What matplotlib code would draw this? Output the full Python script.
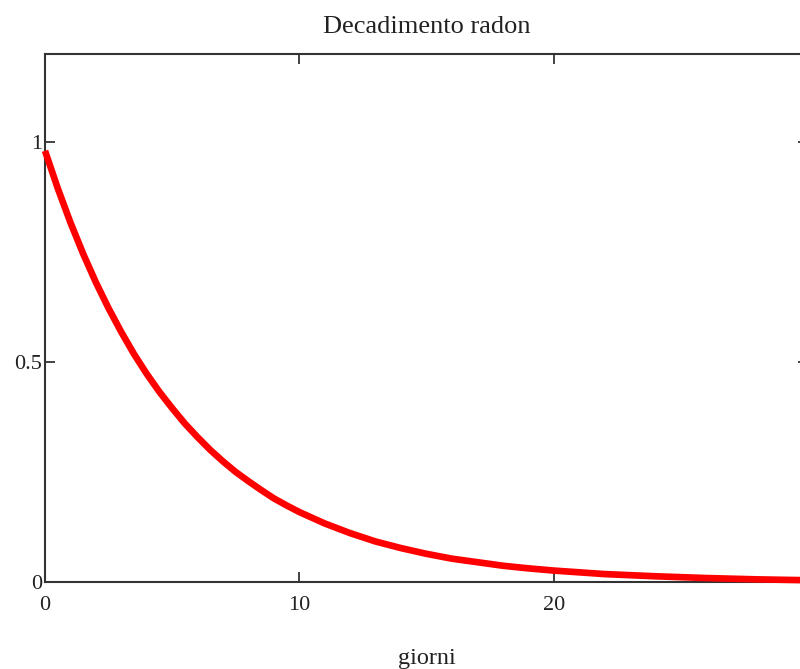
import matplotlib
matplotlib.use('Agg')
import matplotlib.pyplot as plt

# values
giorni = [0, 0.5, 1, 1.5, 2, 2.5, 3, 3.5, 4, 4.5, 5, 5.5, 6, 6.5, 7, 7.5, 8, 8.5, 9, 9.5,
          10, 11, 12, 13, 14, 15, 16, 17, 18, 19, 20, 22, 24, 26, 28, 30]
frazione = [0.98, 0.895, 0.817, 0.746, 0.681, 0.622, 0.568, 0.518, 0.473, 0.432, 0.395,
            0.360, 0.329, 0.300, 0.274, 0.250, 0.229, 0.209, 0.190, 0.174,
            0.159, 0.133, 0.111, 0.092, 0.077, 0.064, 0.053, 0.045, 0.037, 0.031,
            0.026, 0.018, 0.013, 0.009, 0.006, 0.004]
xticks = [0, 10, 20]
yticks = [0, 0.5, 1]
ytick_labels = ['0', '0.5', '1']

plt.rcParams['font.family'] = ['Liberation Serif', 'DejaVu Serif']

fig = plt.figure(figsize=(8, 6.69), dpi=100)
ax = fig.add_axes([45 / 800, 87 / 669, 763 / 800, 528 / 669])

ax.plot(giorni, frazione, color='#ff0000', linewidth=4.8, solid_capstyle='butt',
        solid_joinstyle='round', zorder=5, clip_on=False)

ax.set_xlim(0, 30)
ax.set_ylim(0, 1.2)
ax.set_xticks(xticks)
ax.set_yticks(yticks)
ax.set_yticklabels(ytick_labels)
ax.tick_params(direction='in', length=7, width=1.2, color='#222222',
               labelsize=16, labelcolor='#222222', top=True, right=True)
ax.tick_params(axis='x', pad=10)
ax.tick_params(axis='y', pad=2)
for s in ax.spines.values():
    s.set_color('#333333')
    s.set_linewidth(1.5)

ax.set_title('Decadimento radon', fontsize=19, color='#222222', pad=15)
ax.set_xlabel('giorni', fontsize=17.5, color='#222222', labelpad=24)

fig.savefig('out.png', dpi=100)
